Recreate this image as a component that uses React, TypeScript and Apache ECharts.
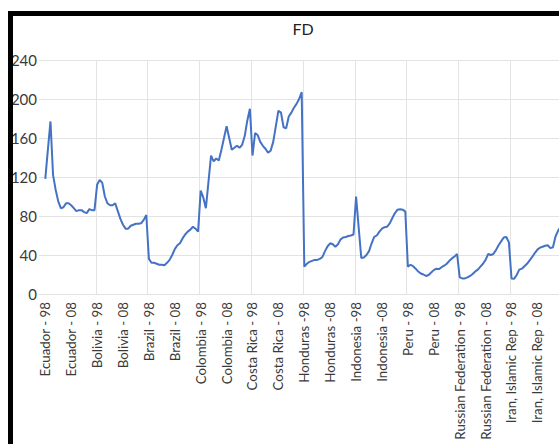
import React, { useEffect, useRef } from "react";
import * as echarts from "echarts";

const countryLabels = [
  "Ecuador - ",
  "Bolivia - ",
  "Brazil - ",
  "Colombia - ",
  "Costa Rica - ",
  "Honduras -",
  "Indonesia -",
  "Peru - ",
  "Russian Federation - ",
  "Iran, Islamic Rep - ",
];
const years = ["98", "99", "00", "01", "02", "03", "04", "05", "06", "07", "08", "09", "10", "11", "12", "13", "14", "15", "16", "17"];

const ecuador = [118, 148, 177, 122, 107, 95, 88, 89, 93, 93, 91, 88, 85, 86, 86, 84, 83, 87, 86, 86];
const bolivia = [112, 117, 114, 100, 93, 91, 91, 93, 85, 77, 71, 67, 67, 70, 71, 72, 72, 72.5, 76, 81];
const brazil = [36, 32, 32, 31, 30, 30, 29.5, 32, 35, 40, 46, 50, 52, 57, 61, 64, 66, 69, 67, 64];
const colombia = [106, 99, 88, 115, 142, 136, 139, 137, 148, 160, 172, 160, 148, 150, 152, 150, 153, 162, 178, 190];
const costaRica = [142, 165, 163, 156, 152, 149, 145, 147, 156, 172, 188, 186, 171, 170, 182, 186, 191, 195, 200, 207];
const honduras = [28, 31, 33, 34, 35, 35, 36, 38, 44, 49, 52, 51, 48.5, 51, 56, 58, 58.5, 59.5, 60, 61];
const indonesia = [100, 68, 37, 37.5, 40, 44, 52, 58.5, 60, 64, 67, 68.5, 69, 72.5, 78, 83, 86.5, 87, 86.5, 84.5];
const peru = [28, 30, 28.5, 26, 23, 21, 20, 18.5, 19.5, 22, 24.5, 26, 25.5, 27.5, 29, 31, 34, 36.5, 38.5, 41];
const russia = [17, 16, 16, 17, 18.5, 20.5, 23, 25, 28, 31, 35, 41, 40, 41, 45, 50, 54, 58, 58.5, 53];
const iran = [16, 15.5, 19.5, 25, 26, 28.5, 31, 34.5, 38, 42, 45.5, 47.5, 48.5, 49.5, 50, 47, 48, 59, 65, 69];

const yTicks = [0, 40, 80, 120, 160, 200, 240];

const FONT = "Lato";
const TEXT = "#3a3a3a";
const GRID = "#e3e3e3";

export default function App() {
  const ref = useRef<HTMLDivElement>(null);

  useEffect(() => {
    if (!ref.current) return;
    const chart = echarts.init(ref.current, undefined, { renderer: "svg" });
    const categories: string[] = [];
    countryLabels.forEach((c) => years.forEach((y) => categories.push(c + y)));
    const values = [
      ...ecuador,
      ...bolivia,
      ...brazil,
      ...colombia,
      ...costaRica,
      ...honduras,
      ...indonesia,
      ...peru,
      ...russia,
      ...iran,
    ];
    chart.setOption({
      animation: false,
      backgroundColor: "#ffffff",
      title: {
        text: "FD",
        left: "center",
        top: 15,
        textStyle: { fontFamily: FONT, fontSize: 16, fontWeight: "normal", color: "#222" },
      },
      grid: { left: 44, right: 44, top: 60, bottom: 150, containLabel: false, outerBoundsMode: "none" },
      xAxis: {
        type: "category",
        data: categories,
        boundaryGap: true,
        axisLine: { show: true, lineStyle: { color: GRID, width: 1 } },
        axisTick: { show: false },
        axisLabel: {
          interval: 9,
          rotate: 90,
          margin: 8,
          fontFamily: FONT,
          fontSize: 13.3,
          color: TEXT,
        },
        splitLine: {
          show: true,
          interval: (i: number) => i % 20 === 0 && i > 0,
          lineStyle: { color: GRID, width: 1 },
        },
      },
      yAxis: {
        type: "value",
        min: yTicks[0],
        max: yTicks[yTicks.length - 1],
        interval: 40,
        axisLine: { show: false },
        axisTick: { show: true, length: 5, lineStyle: { color: GRID } },
        axisLabel: { fontFamily: FONT, fontSize: 15, color: TEXT, margin: 7 },
        splitLine: { show: true, lineStyle: { color: GRID, width: 1 } },
      },
      series: [
        {
          type: "line",
          data: values,
          symbol: "none",
          smooth: false,
          lineStyle: { color: "#4472C4", width: 2 },
        },
      ],
    });
    return () => chart.dispose();
  }, []);

  return (
    <div
      style={{
        position: "fixed",
        left: 0,
        top: 0,
        width: 559,
        height: 444,
        overflow: "hidden",
        background: "#fff",
      }}
    >
      <div ref={ref} style={{ position: "absolute", left: 0, top: 0, width: 606, height: 444 }} />
      <div
        style={{
          position: "absolute",
          left: 8,
          top: 11,
          width: 700,
          height: 600,
          borderLeft: "5px solid #000",
          borderTop: "5px solid #000",
          pointerEvents: "none",
        }}
      />
    </div>
  );
}
